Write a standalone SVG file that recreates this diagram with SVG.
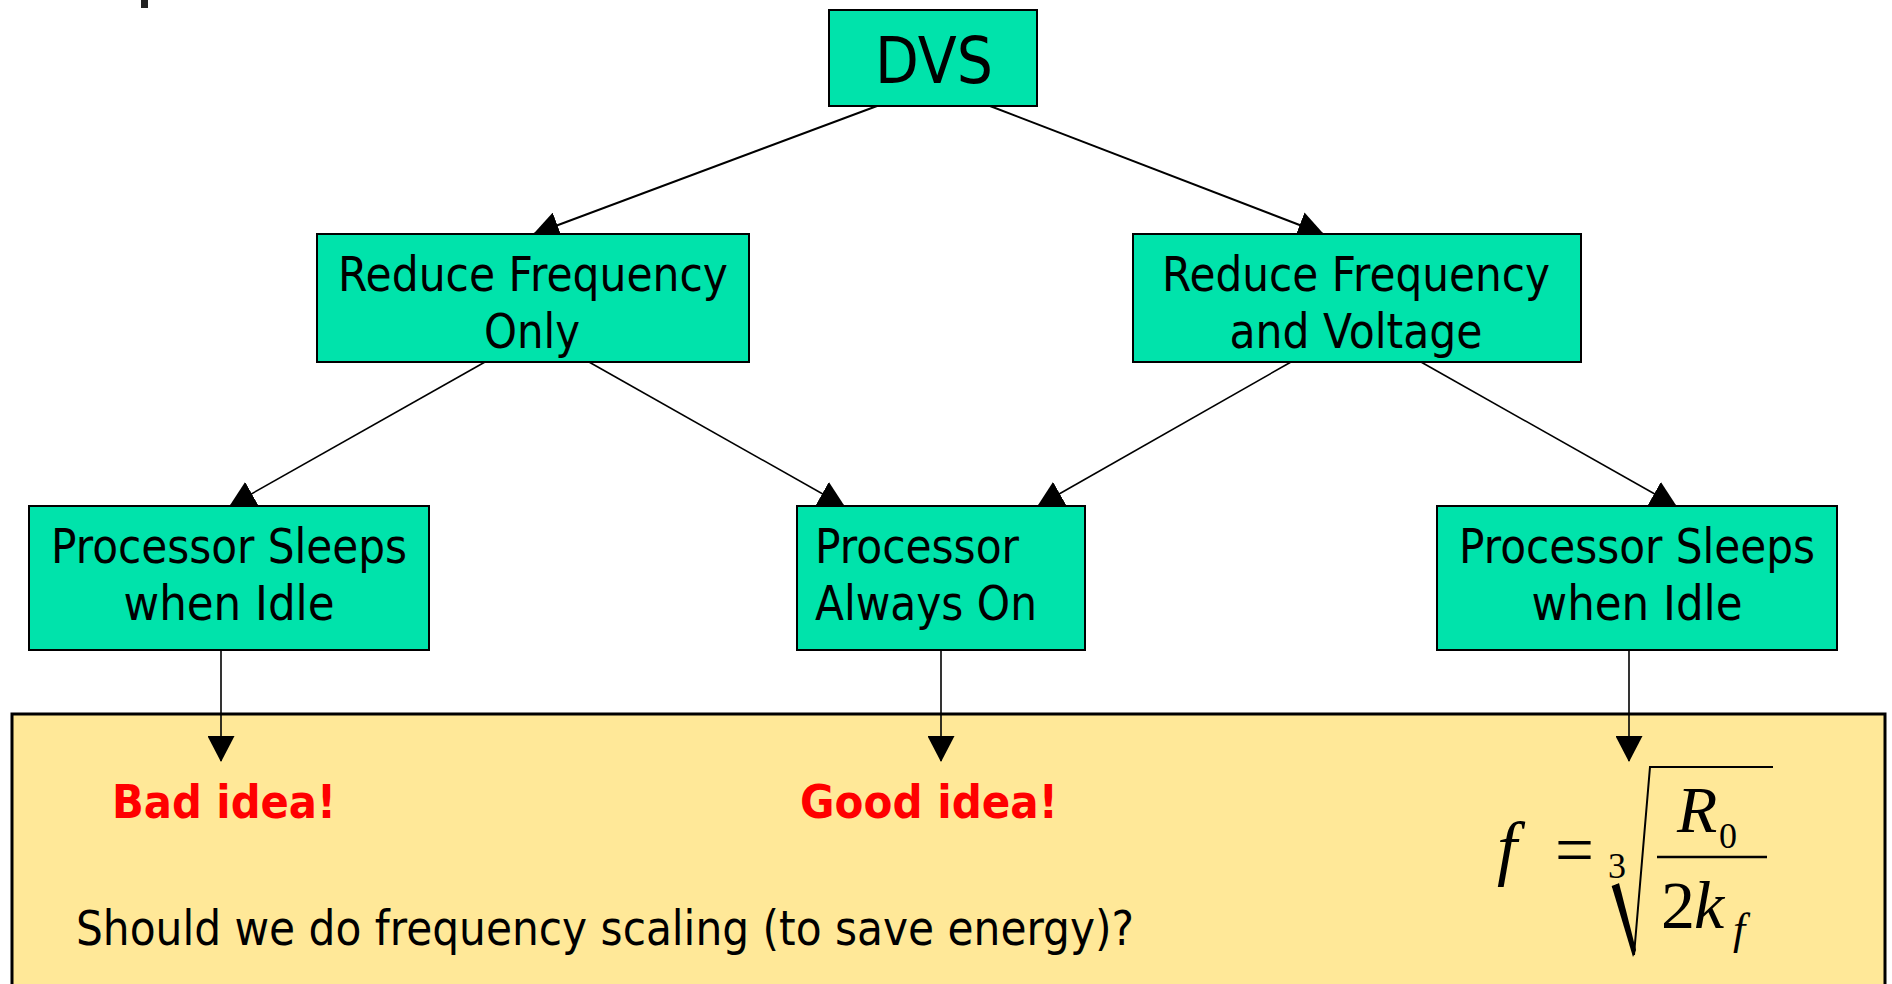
<svg xmlns="http://www.w3.org/2000/svg" width="1892" height="984" viewBox="0 0 1892 984">
  <style>
    .box { fill: #00E3AB; stroke: #000; stroke-width: 2; }
    .lbl { font-family: "DejaVu Sans", Verdana, sans-serif; font-size: 48px; fill: #000; }
    .big { font-size: 64px; }
    .verdict { font-family: "DejaVu Sans", Verdana, sans-serif; font-size: 46px; font-weight: bold; fill: #FF0000; }
    .edge { stroke: #000; fill: none; }
    .thick { stroke-width: 2; }
    .thin { stroke-width: 1.6; }
    .math { font-family: "Liberation Serif", "Times New Roman", serif; fill: #000; }
    .it { font-style: italic; }
  </style>
  <defs>
    <marker id="arrow" markerUnits="userSpaceOnUse" markerWidth="26" markerHeight="27" refX="25" refY="13.5" orient="auto">
      <path d="M0,0 L26,13.5 L0,27 Z" fill="#000"/>
    </marker>
  </defs>

  <rect width="1892" height="984" fill="#fff"/>
  <!-- clipped glyph stub at the top edge -->
  <rect x="141" y="0" width="7" height="8" fill="#222"/>

  <!-- summary panel -->
  <g id="summary">
    <rect x="12" y="714" width="1873" height="290" fill="#FFE898" stroke="#000" stroke-width="3"/>
    <text class="verdict" x="112" y="818" textLength="224" lengthAdjust="spacingAndGlyphs">Bad idea!</text>
    <text class="verdict" x="800" y="818" textLength="258" lengthAdjust="spacingAndGlyphs">Good idea!</text>
    <text class="lbl" x="76" y="945" font-size="50" textLength="1058" lengthAdjust="spacingAndGlyphs">Should we do frequency scaling (to save energy)?</text>
    <!-- f = cube root of R0 / (2 k_f) -->
    <g id="formula">
      <text class="math it" x="1497" y="872" font-size="72">f</text>
      <text class="math" x="1555" y="874" font-size="72" textLength="39" lengthAdjust="spacingAndGlyphs">=</text>
      <text class="math" x="1608" y="878" font-size="36">3</text>
      <polygon points="1612,887 1619,883 1636,950 1633,957" fill="#000"/>
      <path d="M1612,887 L1617,885 L1634,955 L1650,767 L1773,767" fill="none" stroke="#000" stroke-width="2"/>
      <text class="math it" x="1677" y="832" font-size="66">R</text>
      <text class="math" x="1719" y="848" font-size="36">0</text>
      <line x1="1657" y1="857" x2="1767" y2="857" stroke="#000" stroke-width="2.5"/>
      <text class="math" x="1661" y="928" font-size="68">2</text>
      <text class="math it" x="1694" y="928" font-size="68">k</text>
      <text class="math it" x="1733" y="944" font-size="44">f</text>
    </g>
  </g>

  <!-- connectors -->
  <g id="connectors">
    <line class="edge thick" x1="877" y1="106" x2="534" y2="234" marker-end="url(#arrow)"/>
    <line class="edge thick" x1="990" y1="106" x2="1323" y2="234" marker-end="url(#arrow)"/>
    <line class="edge thin" x1="485" y1="362" x2="230" y2="506" marker-end="url(#arrow)"/>
    <line class="edge thin" x1="589" y1="362" x2="844" y2="506" marker-end="url(#arrow)"/>
    <line class="edge thin" x1="1291" y1="362" x2="1038" y2="506" marker-end="url(#arrow)"/>
    <line class="edge thin" x1="1421" y1="362" x2="1676" y2="506" marker-end="url(#arrow)"/>
    <line class="edge thin" x1="221" y1="650" x2="221" y2="761" marker-end="url(#arrow)"/>
    <line class="edge thin" x1="941" y1="650" x2="941" y2="761" marker-end="url(#arrow)"/>
    <line class="edge thin" x1="1629" y1="650" x2="1629" y2="761" marker-end="url(#arrow)"/>
  </g>

  <!-- nodes -->
  <g id="dvs">
    <rect class="box" x="829" y="10" width="208" height="96"/>
    <text class="lbl big" x="934" y="83" text-anchor="middle" textLength="118" lengthAdjust="spacingAndGlyphs">DVS</text>
  </g>
  <g id="freq-only">
    <rect class="box" x="317" y="234" width="432" height="128"/>
    <text class="lbl" x="533" y="291" text-anchor="middle" textLength="390" lengthAdjust="spacingAndGlyphs">Reduce Frequency</text>
    <text class="lbl" x="532" y="348" text-anchor="middle" textLength="96" lengthAdjust="spacingAndGlyphs">Only</text>
  </g>
  <g id="freq-voltage">
    <rect class="box" x="1133" y="234" width="448" height="128"/>
    <text class="lbl" x="1356" y="291" text-anchor="middle" textLength="388" lengthAdjust="spacingAndGlyphs">Reduce Frequency</text>
    <text class="lbl" x="1356" y="348" text-anchor="middle" textLength="253" lengthAdjust="spacingAndGlyphs">and Voltage</text>
  </g>
  <g id="sleeps-left">
    <rect class="box" x="29" y="506" width="400" height="144"/>
    <text class="lbl" x="229" y="563" text-anchor="middle" textLength="356" lengthAdjust="spacingAndGlyphs">Processor Sleeps</text>
    <text class="lbl" x="229" y="620" text-anchor="middle" textLength="211" lengthAdjust="spacingAndGlyphs">when Idle</text>
  </g>
  <g id="always-on">
    <rect class="box" x="797" y="506" width="288" height="144"/>
    <text class="lbl" x="815" y="563" textLength="204" lengthAdjust="spacingAndGlyphs">Processor</text>
    <text class="lbl" x="815" y="620" textLength="222" lengthAdjust="spacingAndGlyphs">Always On</text>
  </g>
  <g id="sleeps-right">
    <rect class="box" x="1437" y="506" width="400" height="144"/>
    <text class="lbl" x="1637" y="563" text-anchor="middle" textLength="356" lengthAdjust="spacingAndGlyphs">Processor Sleeps</text>
    <text class="lbl" x="1637" y="620" text-anchor="middle" textLength="211" lengthAdjust="spacingAndGlyphs">when Idle</text>
  </g>
</svg>
